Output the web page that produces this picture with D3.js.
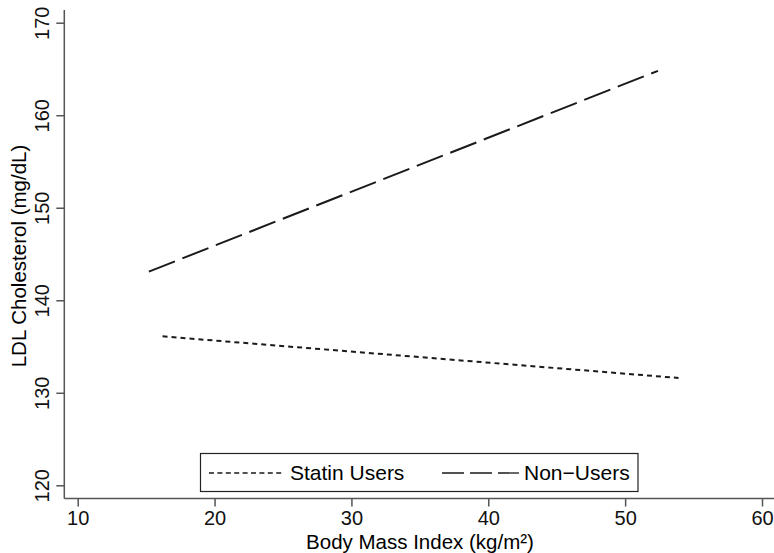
<!DOCTYPE html>
<meta charset="utf-8">
<style>
    body { margin: 0; background: #fff; }
    svg { font-family: "Liberation Sans", Arial, sans-serif; }
    .axis path, .axis line { fill: none; stroke: #555; stroke-width: 1.5; }
    .axis text { font-size: 20px; fill: #111; }
</style>
<body>
<script src="https://cdn.jsdelivr.net/npm/d3@7"></script>
<script>
    // fitted lines
    var seriesNames = ["Statin Users", "Non\u2212Users"];
    var statinBmi = [16.2, 53.9];
    var statinLdl = [136.1, 131.6];
    var nonUserBmi = [15.2, 52.4];
    var nonUserLdl = [143.1, 164.8];
    var xTicks = [10, 20, 30, 40, 50, 60];
    var yTicks = [120, 130, 140, 150, 160, 170];

    var width = 774, height = 553;

    var x = d3.scaleLinear().domain([10, 60]).range([77.7, 762]);
    var y = d3.scaleLinear().domain([120, 170]).range([485.3, 22.7]);

    var svg = d3.select("body").append("svg")
        .attr("width", width)
        .attr("height", height);

    // axes
    var xAxis = svg.append("g")
        .attr("class", "axis")
        .attr("transform", "translate(0,498.5)")
        .call(d3.axisBottom(x).tickValues(xTicks).tickSize(8).tickPadding(4).tickSizeOuter(0));
    xAxis.select(".domain").attr("d", "M64.3,0H774");

    var yAxis = svg.append("g")
        .attr("class", "axis")
        .attr("transform", "translate(64.3,0)")
        .call(d3.axisLeft(y).tickValues(yTicks).tickSize(8).tickSizeOuter(0));
    yAxis.select(".domain").attr("d", "M0,10V498.5");
    yAxis.selectAll(".tick text")
        .attr("transform", "rotate(-90)")
        .attr("x", 0)
        .attr("y", -15)
        .attr("dy", 0)
        .attr("text-anchor", "middle");

    svg.append("text")
        .attr("x", 420)
        .attr("y", 548.5)
        .attr("text-anchor", "middle")
        .style("font-size", "20.5px")
        .text("Body Mass Index (kg/m\u00b2)");

    svg.append("text")
        .attr("transform", "translate(26,256) rotate(-90)")
        .attr("text-anchor", "middle")
        .style("font-size", "20.5px")
        .text("LDL Cholesterol (mg/dL)");

    var line = d3.line()
        .x(function (d) { return x(d[0]); })
        .y(function (d) { return y(d[1]); });

    var lines = [
        { pts: d3.zip(statinBmi, statinLdl), dash: "5,4" },
        { pts: d3.zip(nonUserBmi, nonUserLdl), dash: "28,8" }
    ];

    svg.selectAll(".fit")
        .data(lines)
        .enter().append("path")
        .attr("class", "fit")
        .attr("d", function (d) { return line(d.pts); })
        .attr("fill", "none")
        .attr("stroke", "#1a1a1a")
        .attr("stroke-width", 2)
        .attr("stroke-dasharray", function (d) { return d.dash; });

    // legend
    var lg = svg.append("g");
    lg.append("rect")
        .attr("x", 200.5).attr("y", 453.5)
        .attr("width", 437.5).attr("height", 38)
        .attr("fill", "#fff")
        .attr("stroke", "#222")
        .attr("stroke-width", 1.2);

    var items = [
        { x1: 209, x2: 284, tx: 290, dash: "5,3.4" },
        { x1: 442, x2: 519, tx: 524, dash: "22,6" }
    ];
    items.forEach(function (it, i) {
        lg.append("line")
            .attr("x1", it.x1).attr("x2", it.x2)
            .attr("y1", 473).attr("y2", 473)
            .attr("stroke", "#1a1a1a")
            .attr("stroke-width", 1.3)
            .attr("stroke-dasharray", it.dash);
        lg.append("text")
            .attr("x", it.tx)
            .attr("y", 480)
            .style("font-size", "21px")
            .text(seriesNames[i]);
    });
</script>
</body>
